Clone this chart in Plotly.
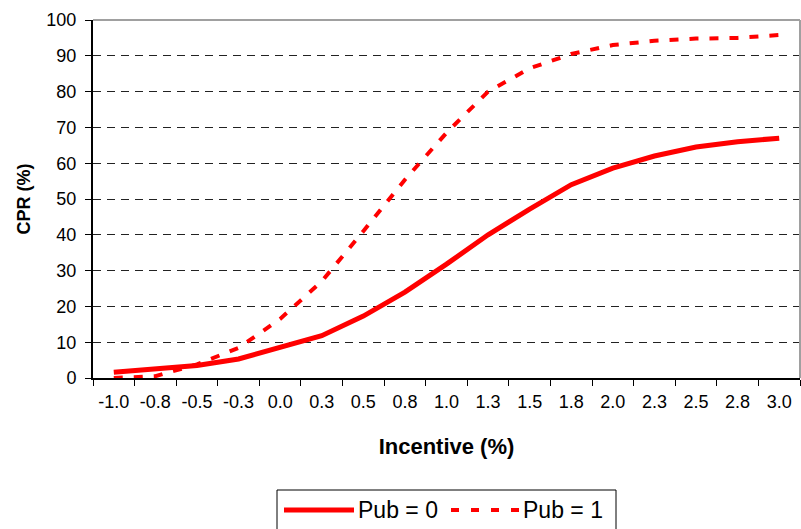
import plotly.graph_objects as go

incentive = ["-1.0", "-0.8", "-0.5", "-0.3", "0.0", "0.3", "0.5", "0.8", "1.0",
             "1.3", "1.5", "1.8", "2.0", "2.3", "2.5", "2.8", "3.0"]
pub0 = [1.6, 2.5, 3.5, 5.3, 8.4, 11.8, 17.3, 24.0, 31.8, 40.0, 47.2, 54.0, 58.6, 62.0, 64.5, 66.0, 67.0]
pub1 = [0.0, 0.5, 3.8, 8.4, 16.5, 27.0, 41.0, 55.4, 68.5, 80.0, 86.5, 90.5, 93.0, 94.2, 94.8, 95.0, 95.8]
series_names = ["Pub = 0", "Pub = 1"]

FONT = "Liberation Sans, Arial, sans-serif"
RED = "#FF0000"

fig = go.Figure()
fig.add_trace(go.Scatter(x=incentive, y=pub0, mode="lines", name=series_names[0],
                         line=dict(color=RED, width=5), showlegend=False))
fig.add_trace(go.Scatter(x=incentive, y=pub1, mode="lines", name=series_names[1],
                         line=dict(color=RED, width=4, dash="9px,11px"), showlegend=False))

# plot-area pixel geometry helpers (for the hand-drawn legend box)
L, R, T, B, W, H = 93, 800, 20, 378, 801, 529
def px(x):
    return (x - L) / (R - L)
def py(y):
    return (B - y) / (B - T)

shapes = [
    # grey top/right border of plot area
    dict(type="line", xref="paper", yref="paper", x0=0, x1=1, y0=1, y1=1,
         line=dict(color="#A0A0A0", width=2), layer="above"),
    dict(type="line", xref="paper", yref="paper", x0=1, x1=1, y0=0, y1=1,
         line=dict(color="#A0A0A0", width=2), layer="above"),
    # legend box
    dict(type="rect", xref="paper", yref="paper", x0=px(277), x1=px(616), y0=py(545), y1=py(490),
         line=dict(color="black", width=1), fillcolor="white"),
    dict(type="line", xref="paper", yref="paper", x0=px(284), x1=px(354), y0=py(510), y1=py(510),
         line=dict(color=RED, width=5)),
    dict(type="line", xref="paper", yref="paper", x0=px(451), x1=px(520), y0=py(510), y1=py(510),
         line=dict(color=RED, width=4, dash="8px,12px")),
]
annotations = [
    dict(xref="paper", yref="paper", x=px(356), y=py(510), xanchor="left", yanchor="middle",
         text=series_names[0], showarrow=False, font=dict(family=FONT, size=23, color="black")),
    dict(xref="paper", yref="paper", x=px(521), y=py(510), xanchor="left", yanchor="middle",
         text=series_names[1], showarrow=False, font=dict(family=FONT, size=23, color="black")),
]

fig.update_layout(
    width=W, height=H,
    margin=dict(l=L, r=W - R, t=T, b=H - B),
    paper_bgcolor="white", plot_bgcolor="white",
    font=dict(family=FONT, size=18, color="black"),
    shapes=shapes, annotations=annotations,
    showlegend=False,
)
fig.update_xaxes(
    type="category", range=[-0.5, 16.5],
    showline=True, linecolor="black", linewidth=2,
    ticks="outside", tickson="boundaries", ticklen=6, tickcolor="black", tickwidth=1,
    showgrid=False, ticklabelstandoff=6,
    tickfont=dict(family=FONT, size=18),
    title=dict(text="<b>Incentive (%)</b>", font=dict(family=FONT, size=22), standoff=28),
)
fig.update_yaxes(
    range=[0, 100], dtick=10, tick0=0,
    showline=True, linecolor="black", linewidth=2,
    ticks="outside", ticklen=6, tickcolor="black", tickwidth=1,
    showgrid=True, gridcolor="#222222", gridwidth=1, griddash="8px,6px",
    zeroline=False, ticklabelstandoff=5,
    tickfont=dict(family=FONT, size=18),
    title=dict(text="<b>CPR (%)</b>", font=dict(family=FONT, size=18), standoff=11),
)

fig.write_html("out.html")
